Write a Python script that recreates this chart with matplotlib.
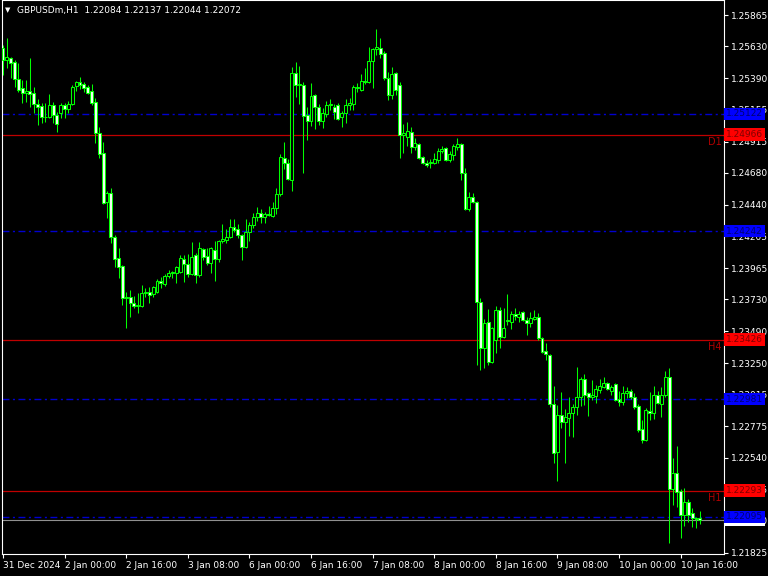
import matplotlib
matplotlib.use("Agg")
import matplotlib.pyplot as plt
from matplotlib.patches import Rectangle
from matplotlib.transforms import blended_transform_factory

title_text = "GBPUSDm,H1  1.22084 1.22137 1.22044 1.22072"

opens = [
    1.25617, 1.25527, 1.25542, 1.25512, 1.25385, 1.25317, 1.25280, 1.25295, 1.25280, 1.25197,
    1.25182, 1.25099, 1.25099, 1.25189, 1.25114, 1.25129, 1.25189, 1.25159, 1.25197, 1.25332,
    1.25362, 1.25347, 1.25325, 1.25295, 1.25212, 1.24979, 1.24829, 1.24461, 1.24529, 1.24198,
    1.24040, 1.23980, 1.23740, 1.23747, 1.23702, 1.23680, 1.23680, 1.23778, 1.23785, 1.23770,
    1.23785, 1.23868, 1.23845, 1.23905, 1.23928, 1.23928, 1.23935, 1.24033, 1.23995, 1.23920,
    1.24063, 1.23913, 1.24108, 1.24055, 1.24003, 1.24100, 1.24033, 1.24168, 1.24176, 1.24198,
    1.24273, 1.24258, 1.24213, 1.24123, 1.24236, 1.24288, 1.24348, 1.24378, 1.24348, 1.24371,
    1.24356, 1.24416, 1.24521, 1.24791, 1.24754, 1.24626, 1.25430, 1.25340, 1.25340, 1.25114,
    1.25069, 1.25265, 1.25174, 1.25069, 1.25122, 1.25189, 1.25174, 1.25189, 1.25099, 1.25129,
    1.25189, 1.25197, 1.25317, 1.25302, 1.25370, 1.25362, 1.25520, 1.25610, 1.25617, 1.25580,
    1.25392, 1.25265, 1.25430, 1.25340, 1.24964, 1.24949, 1.24987, 1.24874, 1.24897, 1.24799,
    1.24754, 1.24754, 1.24754, 1.24776, 1.24844, 1.24867, 1.24776, 1.24814, 1.24874, 1.24897,
    1.24679, 1.24408, 1.24498, 1.24461, 1.23710, 1.23364, 1.23560, 1.23259, 1.23425, 1.23650,
    1.23447, 1.23567, 1.23560, 1.23620, 1.23597, 1.23635, 1.23575, 1.23552, 1.23582, 1.23597,
    1.23440, 1.23342, 1.23312, 1.22944, 1.22584, 1.22861, 1.22809, 1.22839, 1.22876, 1.22921,
    1.22997, 1.23132, 1.23027, 1.22997, 1.23004, 1.23049, 1.23072, 1.23102, 1.23042, 1.23094,
    1.22981, 1.22959, 1.23027, 1.23042, 1.22997, 1.22929, 1.22756, 1.22674, 1.22891, 1.22876,
    1.23012, 1.22944, 1.23012, 1.23147, 1.22306, 1.22426, 1.22291, 1.22110, 1.22208, 1.22125,
    1.22088, 1.22084,
]
highs = [
    1.25640, 1.25693, 1.25550, 1.25527, 1.25505, 1.25377, 1.25377, 1.25542, 1.25325, 1.25234,
    1.25204, 1.25204, 1.25272, 1.25212, 1.25137, 1.25204, 1.25204, 1.25219, 1.25340, 1.25370,
    1.25400, 1.25362, 1.25340, 1.25347, 1.25242, 1.25024, 1.24912, 1.24544, 1.24566, 1.24213,
    1.24115, 1.23988, 1.23785, 1.23800, 1.23755, 1.23778, 1.23838, 1.23815, 1.23823, 1.23830,
    1.23883, 1.23898, 1.23920, 1.23950, 1.23943, 1.23980, 1.24063, 1.24063, 1.24070, 1.24161,
    1.24078, 1.24161, 1.24115, 1.24115, 1.24123, 1.24168, 1.24176, 1.24296, 1.24258, 1.24333,
    1.24333, 1.24296, 1.24220, 1.24333, 1.24311, 1.24378, 1.24423, 1.24408, 1.24386, 1.24431,
    1.24461, 1.24566, 1.24821, 1.24912, 1.24784, 1.25475, 1.25512, 1.25482, 1.25362, 1.25174,
    1.25355, 1.25272, 1.25197, 1.25167, 1.25219, 1.25234, 1.25197, 1.25204, 1.25144, 1.25234,
    1.25242, 1.25340, 1.25355, 1.25422, 1.25467, 1.25625, 1.25617, 1.25760, 1.25693, 1.25595,
    1.25437, 1.25475, 1.25437, 1.25362, 1.25047, 1.25062, 1.25024, 1.24942, 1.24904, 1.24805,
    1.24776, 1.24784, 1.24829, 1.24867, 1.24882, 1.24872, 1.24844, 1.24897, 1.24942, 1.24904,
    1.24716, 1.24536, 1.24529, 1.24468, 1.23740, 1.23582, 1.23657, 1.23522, 1.23680, 1.23672,
    1.23665, 1.23770, 1.23642, 1.23665, 1.23642, 1.23640, 1.23597, 1.23635, 1.23650, 1.23627,
    1.23447, 1.23402, 1.23319, 1.23079, 1.22936, 1.23034, 1.22906, 1.22997, 1.22944, 1.23222,
    1.23147, 1.23169, 1.23034, 1.23124, 1.23087, 1.23132, 1.23147, 1.23109, 1.23087, 1.23102,
    1.23042, 1.23079, 1.23072, 1.23057, 1.23027, 1.22944, 1.22824, 1.22914, 1.23034, 1.23079,
    1.23042, 1.23072, 1.23192, 1.23214, 1.22538, 1.22629, 1.22306, 1.22313, 1.22231, 1.22163,
    1.22095, 1.22137,
]
lows = [
    1.25415, 1.25467, 1.25392, 1.25325, 1.25287, 1.25204, 1.25212, 1.25174, 1.25129, 1.25039,
    1.25054, 1.25062, 1.25092, 1.25054, 1.24987, 1.25092, 1.25092, 1.25129, 1.25189, 1.25295,
    1.25310, 1.25287, 1.25275, 1.25189, 1.24904, 1.24791, 1.24446, 1.24341, 1.24153, 1.23973,
    1.23890, 1.23687, 1.23515, 1.23597, 1.23665, 1.23627, 1.23672, 1.23747, 1.23702, 1.23747,
    1.23778, 1.23815, 1.23830, 1.23890, 1.23890, 1.23853, 1.23928, 1.23860, 1.23898, 1.23913,
    1.23853, 1.23898, 1.24025, 1.23988, 1.23928, 1.23868, 1.24010, 1.24153, 1.24153, 1.24191,
    1.24236, 1.24191, 1.24025, 1.24115, 1.24168, 1.24266, 1.24318, 1.24303, 1.24303, 1.24356,
    1.24348, 1.24371, 1.24506, 1.24709, 1.24626, 1.24544, 1.25250, 1.25197, 1.24679, 1.24927,
    1.25032, 1.25009, 1.25039, 1.25017, 1.25099, 1.25152, 1.25084, 1.25077, 1.25024, 1.25054,
    1.25152, 1.25152, 1.25287, 1.25295, 1.25347, 1.25355, 1.25317, 1.25565, 1.25542, 1.25377,
    1.25227, 1.25234, 1.25265, 1.24791, 1.24829, 1.24882, 1.24829, 1.24851, 1.24784, 1.24746,
    1.24724, 1.24716, 1.24748, 1.24754, 1.24829, 1.24769, 1.24761, 1.24776, 1.24851, 1.24626,
    1.24401, 1.24393, 1.24453, 1.23237, 1.23199, 1.23214, 1.23237, 1.23252, 1.23327, 1.23364,
    1.23440, 1.23537, 1.23507, 1.23575, 1.23560, 1.23567, 1.23462, 1.23522, 1.23575, 1.23425,
    1.23327, 1.23274, 1.22921, 1.22501, 1.22366, 1.22764, 1.22501, 1.22704, 1.22696, 1.22861,
    1.22929, 1.22936, 1.22854, 1.22974, 1.22951, 1.23027, 1.23064, 1.23049, 1.23012, 1.22966,
    1.22929, 1.22936, 1.22989, 1.22981, 1.22906, 1.22734, 1.22651, 1.22666, 1.22824, 1.22831,
    1.22944, 1.22846, 1.22997, 1.21900, 1.22185, 1.22170, 1.21938, 1.22028, 1.22058, 1.22020,
    1.22013, 1.22044,
]
closes = [
    1.25527, 1.25550, 1.25505, 1.25385, 1.25302, 1.25280, 1.25295, 1.25272, 1.25197, 1.25174,
    1.25099, 1.25102, 1.25189, 1.25114, 1.25047, 1.25189, 1.25159, 1.25197, 1.25325, 1.25362,
    1.25340, 1.25317, 1.25280, 1.25204, 1.24979, 1.24821, 1.24453, 1.24529, 1.24198, 1.24033,
    1.23973, 1.23740, 1.23747, 1.23702, 1.23680, 1.23687, 1.23778, 1.23785, 1.23763, 1.23823,
    1.23868, 1.23853, 1.23905, 1.23928, 1.23935, 1.23973, 1.24040, 1.23995, 1.23920, 1.24048,
    1.23913, 1.24115, 1.24048, 1.24003, 1.24115, 1.24033, 1.24168, 1.24183, 1.24198, 1.24273,
    1.24251, 1.24213, 1.24123, 1.24236, 1.24288, 1.24348, 1.24378, 1.24348, 1.24371, 1.24363,
    1.24416, 1.24521, 1.24799, 1.24754, 1.24634, 1.25430, 1.25340, 1.25347, 1.25107, 1.25069,
    1.25257, 1.25174, 1.25069, 1.25129, 1.25189, 1.25197, 1.25137, 1.25084, 1.25129, 1.25189,
    1.25204, 1.25325, 1.25325, 1.25370, 1.25362, 1.25520, 1.25610, 1.25625, 1.25572, 1.25392,
    1.25265, 1.25422, 1.25302, 1.24964, 1.24979, 1.24994, 1.24874, 1.24904, 1.24791, 1.24754,
    1.24739, 1.24761, 1.24784, 1.24844, 1.24859, 1.24776, 1.24821, 1.24882, 1.24897, 1.24679,
    1.24408, 1.24498, 1.24461, 1.23710, 1.23364, 1.23552, 1.23259, 1.23515, 1.23650, 1.23447,
    1.23515, 1.23575, 1.23620, 1.23605, 1.23620, 1.23575, 1.23552, 1.23590, 1.23597, 1.23440,
    1.23334, 1.23319, 1.22944, 1.22576, 1.22861, 1.22809, 1.22846, 1.22876, 1.22921, 1.22997,
    1.23132, 1.23012, 1.22997, 1.23012, 1.23057, 1.23079, 1.23102, 1.23057, 1.23072, 1.22974,
    1.22959, 1.23027, 1.23042, 1.22997, 1.22921, 1.22749, 1.22674, 1.22899, 1.22876, 1.23012,
    1.22951, 1.23012, 1.23147, 1.22306, 1.22426, 1.22283, 1.22110, 1.22208, 1.22110, 1.22088,
    1.22080, 1.22072,
]

xtick_bars = [0, 16, 32, 48, 64, 80, 96, 112, 128, 144, 160, 176]
xtick_labels = ["31 Dec 2024", "2 Jan 00:00", "2 Jan 16:00", "3 Jan 08:00", "6 Jan 00:00",
                "6 Jan 16:00", "7 Jan 08:00", "8 Jan 00:00", "8 Jan 16:00", "9 Jan 08:00",
                "10 Jan 00:00", "10 Jan 16:00"]
ytick_values = [1.25865, 1.25630, 1.25390, 1.25155, 1.24915, 1.24680, 1.24440, 1.24205,
                1.23965, 1.23730, 1.23490, 1.23250, 1.23015, 1.22775, 1.22540, 1.22305,
                1.22070, 1.21825]

blue_levels = [1.25122, 1.24242, 1.22981, 1.22095]
red_levels = [1.24966, 1.23426, 1.22293]
red_tags = ["D1", "H4", "H1"]
bid_price = 1.22072

FONT = "DejaVu Sans"
FS = 6.5
LIME = "#00ff00"

fig = plt.figure(figsize=(7.68, 5.76), dpi=100, facecolor="black")
ax = fig.add_axes([2 / 768, 22 / 576, 722 / 768, 554 / 576])
ax.set_facecolor("black")

for i, (o, h, l, c) in enumerate(zip(opens, highs, lows, closes)):
    ax.vlines(i, l, h, color=LIME, lw=0.75, zorder=3)
    if abs(c - o) < 0.00002:
        ax.hlines(c, i - 0.4, i + 0.4, color=LIME, lw=0.9, zorder=4)
    else:
        fc = "#f4fff4" if c < o else "black"
        ax.add_patch(Rectangle((i - 0.38, min(o, c)), 0.76, abs(c - o),
                               facecolor=fc, edgecolor=LIME, lw=0.75, zorder=4))

ax.set_ylim(1.21817, 1.25978)
ax.set_xlim(-0.26, 187.27)

# horizontal levels
for lv in blue_levels:
    ax.axhline(lv, color="#0000d0", lw=1.0, linestyle=(0, (5, 2.5, 1.5, 2.5)), zorder=2)
for lv, tag in zip(red_levels, red_tags):
    ax.axhline(lv, color="#c00000", lw=0.9, zorder=2)
    ax.annotate(tag, xy=(1.0, lv), xycoords=("axes fraction", "data"),
                xytext=(-1.5, -1.5), textcoords="offset points", ha="right", va="top",
                color="#b00000", fontsize=7, family=FONT, zorder=5)
ax.axhline(bid_price, color="#909090", lw=0.8, zorder=2)

# axes styling
for sp in ax.spines.values():
    sp.set_color("white")
    sp.set_linewidth(0.8)
ax.yaxis.tick_right()
ax.set_yticks(ytick_values)
ax.set_yticklabels([f"{v:.5f}" for v in ytick_values])
ax.set_xticks(xtick_bars)
ax.set_xticklabels(xtick_labels)
for lab in ax.get_xticklabels():
    lab.set_ha("left")
ax.tick_params(axis="both", colors="white", labelcolor="white", length=3, width=0.8,
               labelsize=FS, pad=2)
ax.tick_params(axis="x", pad=2)
for lab in ax.get_xticklabels() + ax.get_yticklabels():
    lab.set_family(FONT)

# price tags on the right scale
tr = blended_transform_factory(ax.transAxes, ax.transData)
ax.text(1.003, bid_price, f"{bid_price:.5f}", transform=tr, ha="left", va="center",
        fontsize=FS, family=FONT, color="black", clip_on=False, zorder=10,
        bbox=dict(boxstyle="square,pad=0.2", fc="white", ec="none"))
for lv in blue_levels:
    ax.text(1.003, lv, f"{lv:.5f}", transform=tr, ha="left", va="center",
            fontsize=FS, family=FONT, color="#000070", clip_on=False, zorder=11,
            bbox=dict(boxstyle="square,pad=0.2", fc="#0000ff", ec="none"))
for lv in red_levels:
    ax.text(1.003, lv, f"{lv:.5f}", transform=tr, ha="left", va="center",
            fontsize=FS, family=FONT, color="#800000", clip_on=False, zorder=11,
            bbox=dict(boxstyle="square,pad=0.2", fc="#ff0000", ec="none"))

# title
fig.text(5 / 768, 1 - 10 / 576, "\u25BC", color="white", fontsize=5, family=FONT,
         va="center", ha="left")
fig.text(17 / 768, 1 - 10 / 576, title_text, color="white", fontsize=FS, family=FONT,
         va="center", ha="left")

fig.savefig("out.png", dpi=100, facecolor="black")
